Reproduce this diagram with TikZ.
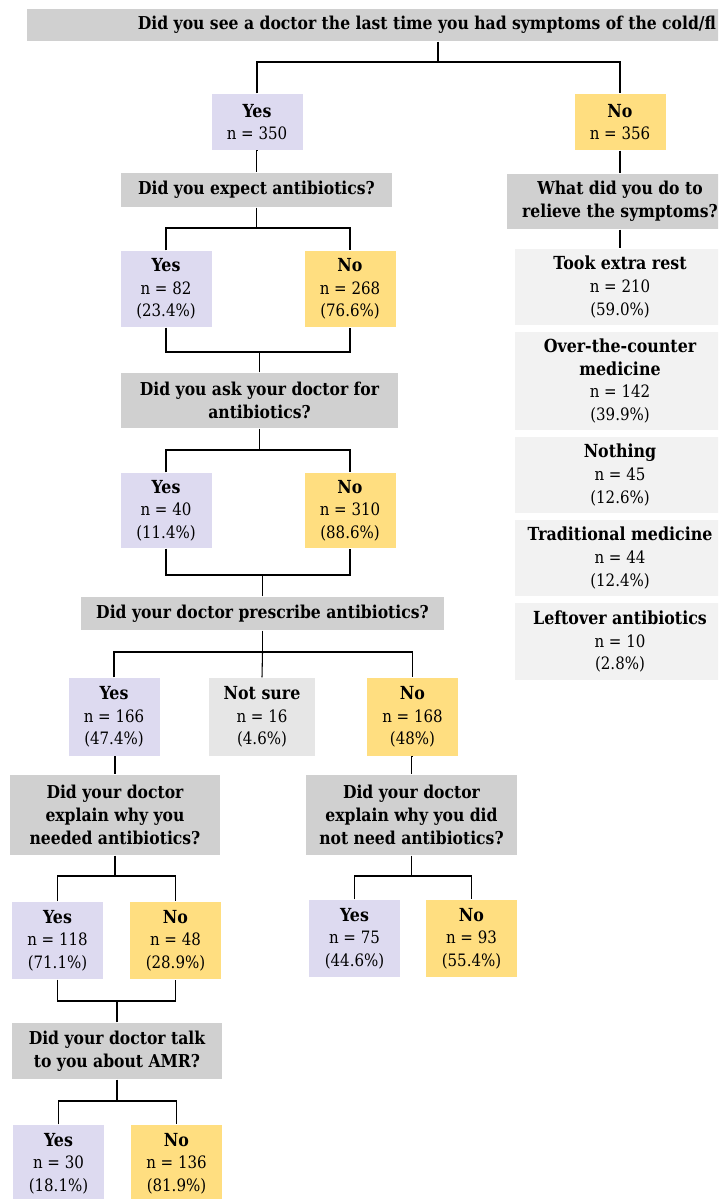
\documentclass[tikz,border=0pt]{standalone}
\usepackage{fontspec}
\setmainfont{DejaVu Serif}[FakeStretch=0.88]
\definecolor{lav}{RGB}{221,218,240}
\definecolor{gold}{RGB}{255,222,128}
\definecolor{qgray}{RGB}{208,208,208}
\definecolor{unsure}{RGB}{230,230,230}
\definecolor{optgray}{RGB}{242,242,242}
\newcommand\hd[1]{{\fontsize{13.5}{17}\selectfont\bfseries #1}}
\begin{document}
\begin{tikzpicture}[x=0.75pt, y=-0.75pt, line width=0.8pt,
  font=\fontsize{12.8}{17}\selectfont,
  cell/.style={rectangle, inner sep=0pt, align=center},
  wh/.style 2 args={minimum width=#1*0.75pt, minimum height=#2*0.75pt},
  yesbox/.style={cell, fill=lav, wh={91}{#1}}, yesbox/.default=77,
  nobox/.style={cell, fill=gold, wh={91}{#1}}, nobox/.default=77,
  ques/.style={cell, fill=qgray, font=\fontsize{13.3}{17}\selectfont\bfseries},
  optbox/.style={cell, fill=optgray, wh={210}{#1}}, optbox/.default=76]
\useasboundingbox (0,0) rectangle (718,1199);
\clip (0,0) rectangle (718,1199);

% first question
\node[ques, wh={800}{32}] (q0) at (427,25)
  {Did you see a doctor the last time you had symptoms of the cold/fl};
\node[yesbox=56] (y0) at (257,122) {\hd{Yes}\\n = 350};
\node[nobox=56] (n0) at (620,122) {\hd{No}\\n = 356};

% left branch
\node[ques, wh={271}{34}] (q1) at (256.5,190) {Did you expect antibiotics?};
\node[yesbox=76] (y1) at (166,289) {\hd{Yes}\\n = 82\\(23.4\%)};
\node[nobox=76] (n1) at (350,289) {\hd{No}\\n = 268\\(76.6\%)};
\node[ques, wh={277}{55}] (q2) at (259.5,400.5) {Did you ask your doctor for\\antibiotics?};
\node[yesbox=75] (y2) at (166,510.5) {\hd{Yes}\\n = 40\\(11.4\%)};
\node[nobox=75] (n2) at (350,510.5) {\hd{No}\\n = 310\\(88.6\%)};
\node[ques, wh={363}{33}] (q3) at (262.5,613.5) {Did your doctor prescribe antibiotics?};
\node[yesbox=78] (y3) at (114,717) {\hd{Yes}\\n = 166\\(47.4\%)};
\node[cell, fill=unsure, wh={106}{78}] (s3) at (262,717) {\hd{Not sure}\\n = 16\\(4.6\%)};
\node[nobox=78] (n3) at (412.5,717) {\hd{No}\\n = 168\\(48\%)};
\node[ques, wh={210}{80}] (q4) at (115,815) {Did your doctor\\explain why you\\needed antibiotics?};
\node[ques, wh={211}{80}] (q5) at (411.5,815) {Did your doctor\\explain why you did\\not need antibiotics?};
\node[yesbox] (y4) at (57.5,940.5) {\hd{Yes}\\n = 118\\(71.1\%)};
\node[nobox] (n4) at (175.5,940.5) {\hd{No}\\n = 48\\(28.9\%)};
\node[yesbox] (y5) at (354.5,938.5) {\hd{Yes}\\n = 75\\(44.6\%)};
\node[nobox] (n5) at (471.5,938.5) {\hd{No}\\n = 93\\(55.4\%)};
\node[ques, wh={210}{56}] (q6) at (117,1051) {Did your doctor talk\\to you about AMR?};
\node[yesbox] (y6) at (58.5,1163.5) {\hd{Yes}\\n = 30\\(18.1\%)};
\node[nobox] (n6) at (176.5,1163.5) {\hd{No}\\n = 136\\(81.9\%)};

% right branch
\node[ques, wh={226}{55}] (q7) at (620,201.5) {What did you do to\\relieve the symptoms?};
\node[optbox] (o1) at (620,287) {\hd{Took extra rest}\\n = 210\\(59.0\%)};
\node[optbox=98] (o2) at (620,381) {\hd{Over-the-counter}\\\hd{medicine}\\n = 142\\(39.9\%)};
\node[optbox] (o3) at (620,475) {\hd{Nothing}\\n = 45\\(12.6\%)};
\node[optbox] (o4) at (620,558) {\hd{Traditional medicine}\\n = 44\\(12.4\%)};
\node[optbox=77] (o5) at (620,641.5) {\hd{Leftover antibiotics}\\n = 10\\(2.8\%)};

% splits
\draw ([xshift=8.25pt]q0.south) -- ([xshift=8.25pt]q0.south |- 0,62) coordinate (j0);
\draw (y0.north) |- (j0) -| (n0.north);
\draw (q1.south) -- (q1.south |- 0,228) coordinate (j1);
\draw (y1.north) |- (j1) -| (n1.north);
\draw (q2.south) -- (q2.south |- 0,450) coordinate (j2);
\draw (y2.north) |- (j2) -| (n2.north);
\draw (q3.south) -- (q3.south |- 0,652) coordinate (j3);
\draw (y3.north) |- (j3) -| (n3.north);
\draw (j3) -- (s3.north);
\draw (q4.south) -- (q4.south |- 0,876) coordinate (j4);
\draw (y4.north) |- (j4) -| (n4.north);
\draw (q5.south) -- (q5.south |- 0,876) coordinate (j5);
\draw (y5.north) |- (j5) -| (n5.north);
\draw (q6.south) -- (q6.south |- 0,1101) coordinate (j6);
\draw (y6.north) |- (j6) -| (n6.north);

% merges
\draw (q2.north) -- (q2.north |- 0,352) coordinate (m1);
\draw (y1.south) |- (m1) -| (n1.south);
\draw (q3.north) -- (q3.north |- 0,575) coordinate (m2);
\draw (y2.south) |- (m2) -| (n2.south);
\draw (q6.north) -- (q6.north |- 0,1001) coordinate (m4);
\draw (y4.south) |- (m4) -| (n4.south);

% straight links
\foreach \a/\b in {y0/q1, y3/q4, n3/q5, n0/q7, q7/o1}
  \draw (\a.south) -- (\a.south -| \b.north) -- (\b.north);
\end{tikzpicture}
\end{document}
